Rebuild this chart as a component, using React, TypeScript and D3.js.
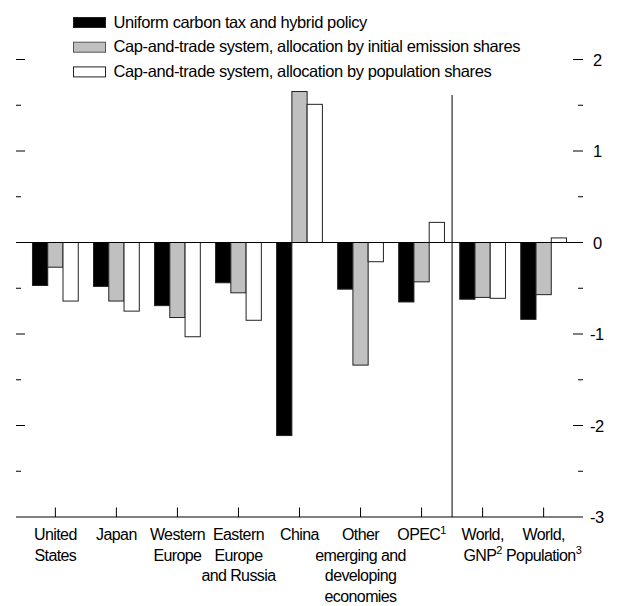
import React from "react";
import * as d3 from "d3";

const categories = ["US", "Japan", "WEurope", "EEurope", "China", "Other", "OPEC", "WorldGNP", "WorldPop"];
const categoryLabels: { lines: string[]; sup?: string[] }[] = [
  { lines: ["United", "States"] },
  { lines: ["Japan"] },
  { lines: ["Western", "Europe"] },
  { lines: ["Eastern", "Europe", "and Russia"] },
  { lines: ["China"] },
  { lines: ["Other", "emerging and", "developing", "economies"] },
  { lines: ["OPEC"], sup: ["1"] },
  { lines: ["World,", "GNP"], sup: ["", "2"] },
  { lines: ["World,", "Population"], sup: ["", "3"] },
];
const seriesNames = [
  "Uniform carbon tax and hybrid policy",
  "Cap-and-trade system, allocation by initial emission shares",
  "Cap-and-trade system, allocation by population shares",
];
const uniformTax = [-0.47, -0.48, -0.69, -0.44, -2.11, -0.51, -0.65, -0.62, -0.84];
const capEmission = [-0.27, -0.64, -0.82, -0.55, 1.65, -1.34, -0.43, -0.6, -0.57];
const capPopulation = [-0.64, -0.75, -1.03, -0.85, 1.51, -0.21, 0.22, -0.61, 0.05];
const majorTicks = [-3, -2, -1, 0, 1, 2];
const minorTicks = [-2.5, -1.5, -0.5, 0.5, 1.5];
const fills = ["#000000", "#c0c0c0", "#ffffff"];

export default function App() {
  const W = 618, H = 606;
  const left = 16, right = 583;
  const y = d3.scaleLinear().domain([-3, 2]).range([517, 59.5]);
  const x0 = d3.scaleBand().domain(categories).range([left, right]).paddingInner(0.25).paddingOuter(0.27);
  const x1 = d3.scaleBand().domain(["0", "1", "2"]).range([0, x0.bandwidth()]);
  const series = [uniformTax, capEmission, capPopulation];
  const font = "'Liberation Sans', Arial, sans-serif";
  const sepX = (x0("OPEC")! + x0.bandwidth() + x0("WorldGNP")!) / 2;

  return (
    <svg width={W} height={H} style={{ position: "absolute", left: 0, top: 0 }} fontFamily={font}>
      <rect width={W} height={H} fill="#fff" />
      {/* legend */}
      {seriesNames.map((n, i) => (
        <g key={n} transform={`translate(73, ${22.5 + i * 24.7})`}>
          <rect x={0.5} y={-5} width={32} height={10} fill={fills[i]} stroke={i === 1 ? "#555" : "#222"} />
          <text x={40.5} y={5.2} fontSize={16.5} letterSpacing={-0.4}>{n}</text>
        </g>
      ))}
      {/* bars */}
      {categories.map((c, ci) => (
        <g key={c} transform={`translate(${x0(c)}, 0)`}>
          {series.map((s, si) => {
            const v = s[ci];
            const y0 = y(0), yv = y(v);
            return (
              <rect key={si} x={x1(String(si))!} y={Math.min(y0, yv)} width={x1.bandwidth()}
                height={Math.abs(yv - y0)} fill={fills[si]} stroke="#222" strokeWidth={1} />
            );
          })}
        </g>
      ))}
      {/* zero line */}
      <line x1={left} x2={right} y1={y(0)} y2={y(0)} stroke="#000" />
      {/* bottom axis */}
      <line x1={left} x2={right} y1={y(-3)} y2={y(-3)} stroke="#000" />
      {categories.map((c) => {
        const cx = x0(c)! + x0.bandwidth() / 2;
        return <line key={c} x1={cx} x2={cx} y1={y(-3)} y2={y(-3) - 9.5} stroke="#000" />;
      })}
      {/* separator */}
      <line x1={sepX} x2={sepX} y1={95} y2={y(-3)} stroke="#000" />
      {/* y ticks */}
      {majorTicks.filter((t) => t !== -3 && t !== 0).map((t) => (
        <g key={t}>
          <line x1={left} x2={left + 9} y1={y(t)} y2={y(t)} stroke="#000" />
          <line x1={right - 10} x2={right} y1={y(t)} y2={y(t)} stroke="#000" />
        </g>
      ))}
      {minorTicks.map((t) => (
        <g key={t}>
          <line x1={left} x2={left + 5} y1={y(t)} y2={y(t)} stroke="#000" />
          <line x1={right - 5} x2={right} y1={y(t)} y2={y(t)} stroke="#000" />
        </g>
      ))}
      {majorTicks.map((t) => (
        <text key={t} x={t < 0 ? 590 : 593} y={y(t) + 6} fontSize={16.5} letterSpacing={-0.4}>{t}</text>
      ))}
      {/* category labels */}
      {categories.map((c, ci) => {
        const cx = x0(c)! + x0.bandwidth() / 2;
        const lab = categoryLabels[ci];
        return (
          <text key={c} x={cx} textAnchor="middle" fontSize={16} letterSpacing={-0.6}>
            {lab.lines.map((l, li) => (
              <tspan key={li} x={cx} y={540 + li * 20.7}>
                {l}
                {lab.sup && lab.sup[li] ? <tspan fontSize={11} dy={-6.5}>{lab.sup[li]}</tspan> : null}
              </tspan>
            ))}
          </text>
        );
      })}
    </svg>
  );
}
